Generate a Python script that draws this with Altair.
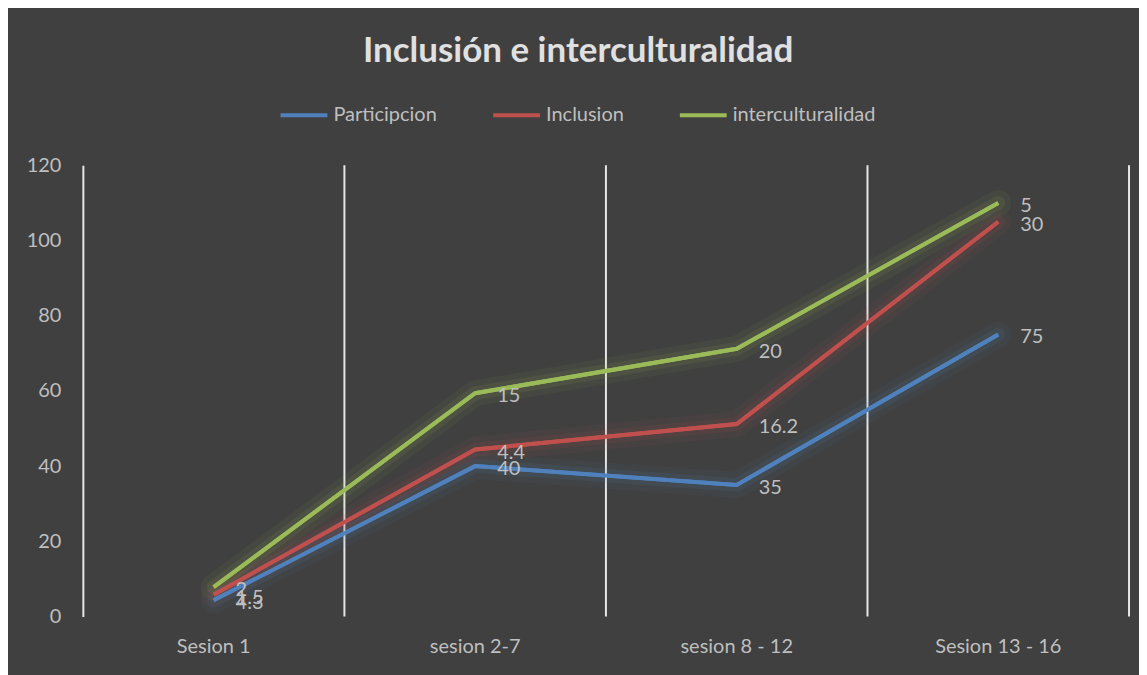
import altair as alt
import pandas as pd

categories = ["Sesion 1", "sesion 2-7", "sesion 8 - 12", "Sesion 13 - 16"]
series = ["Participcion", "Inclusion", "interculturalidad"]
participacion = [4.3, 40, 35, 75]
inclusion = [1.5, 4.4, 16.2, 30]
interculturalidad = [2, 15, 20, 5]
colors = ["#4F81BD", "#C0504D", "#9BBB59"]
y_ticks = [0, 20, 40, 60, 80, 100, 120]

rows = []
for i, (name, vals) in enumerate(zip(series, [participacion, inclusion, interculturalidad])):
    for c, v in zip(categories, vals):
        rows.append({"cat": c, "series": name, "order": i, "value": v})
df = pd.DataFrame(rows)

FONT = "Lato"
LABEL_COLOR = "#bfbfbf"
FS = 20

xscale = alt.Scale(type="band", paddingInner=0, paddingOuter=0)
xaxis = alt.Axis(title=None, labelAngle=0, domain=False, ticks=False, grid=False,
                 labelFontSize=FS, labelColor=LABEL_COLOR, labelPadding=20, labelFont=FONT)
yenc = alt.Y("y1:Q", scale=alt.Scale(domain=[0, 120]),
             axis=alt.Axis(values=y_ticks, title=None, grid=False, ticks=False, domain=True,
                           domainColor="#e6e6e6", domainWidth=2, labelFontSize=FS,
                           labelColor=LABEL_COLOR, labelPadding=22, labelFont=FONT))
legend = alt.Legend(title=None, orient="none", direction="horizontal",
                    legendX=196, legendY=-76, symbolType="stroke",
                    symbolStrokeWidth=4, symbolSize=2200, symbolOpacity=1,
                    labelFontSize=FS, labelColor=LABEL_COLOR,
                    labelFont=FONT, columnPadding=48, padding=0)
color = alt.Color("series:N", scale=alt.Scale(domain=series, range=colors), legend=legend)

base = alt.Chart(df).transform_stack(
    stack="value", groupby=["cat"], as_=["y0", "y1"], sort=[alt.SortField("order")]
)

xcenter = alt.X("cat:N", sort=categories, scale=xscale, axis=xaxis, bandPosition=0.5)

rules = alt.Chart(pd.DataFrame({"cat": categories})).mark_rule(
    color="#e6e6e6", strokeWidth=2
).encode(x=alt.X("cat:N", sort=categories, scale=xscale, axis=xaxis, bandPosition=1))

lines = base.mark_line(strokeWidth=4).encode(
    x=xcenter, y=yenc, color=color, detail="series:N")
glow1 = base.mark_line(strokeWidth=26, opacity=0.06, strokeCap="round").encode(
    x=xcenter, y=yenc, color=color, detail="series:N")
glow2 = base.mark_line(strokeWidth=14, opacity=0.10, strokeCap="round").encode(
    x=xcenter, y=yenc, color=color, detail="series:N")
lines_top = base.mark_line(strokeWidth=4).encode(
    x=xcenter, y=yenc, color=color, detail="series:N")
labels = base.mark_text(align="left", dx=22, dy=3, fontSize=FS, color=LABEL_COLOR,
                        font=FONT).encode(
    x=xcenter, y=yenc, text=alt.Text("value:Q"))

chart = alt.layer(lines, rules, glow1, glow2, lines_top, labels).properties(
    width=1048, height=452,
    title=alt.Title("Inclusión e interculturalidad", fontSize=35, font=FONT,
                    fontWeight="bold", color="#e0e0e0", anchor="middle", offset=20,
                    frame="bounds"),
    padding={"left": 18, "top": 26, "right": 9, "bottom": 20},
).configure(background="#404040").configure_view(stroke=None)

chart.save("out.html", embed_options={"renderer": "svg", "actions": False})
